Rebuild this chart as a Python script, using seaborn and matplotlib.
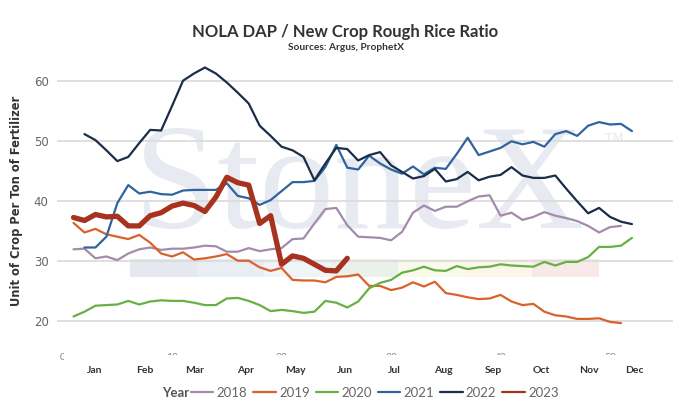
import numpy as np
import pandas as pd
from matplotlib import pyplot as plt
from matplotlib.lines import Line2D
from matplotlib.patches import Rectangle
import matplotlib.transforms as mtransforms
import seaborn as sns

nan = np.nan

# weekly ratio values, week 1..52 (nan = no data)
weeks = list(range(1, 53))
years = ['2018', '2019', '2020', '2021', '2022', '2023']
colors = ['#a48bab', '#d9622b', '#66b045', '#30649e', '#1b2d47', '#a7321f']

r2018 = [31.9, 32.0, 30.4, 30.7, 30.1, 31.2, 31.9, 32.2, 31.8, 32.0,
         32.0, 32.2, 32.5, 32.4, 31.5, 31.5, 32.1, 31.6, 31.9, 32.1,
         33.6, 33.7, 36.2, 38.6, 38.8, 35.9, 34.0, 33.9, 33.8, 33.4,
         34.8, 38.0, 39.2, 38.3, 39.0, 39.0, 39.9, 40.7, 40.9, 37.5,
         38.0, 36.8, 37.3, 38.1, 37.5, 37.1, 36.6, 35.8, 34.7, 35.6,
         35.8, nan]
r2019 = [36.3, 34.7, 35.3, 34.4, 34.0, 33.6, 34.3, 33.0, 31.2, 30.7,
         31.4, 30.2, 30.4, 30.7, 31.1, 30.0, 30.0, 28.9, 28.3, 28.8,
         26.8, 26.7, 26.7, 26.4, 27.3, 27.4, 27.7, 25.8, 25.8, 25.1,
         25.5, 26.4, 25.7, 26.5, 24.6, 24.3, 23.9, 23.6, 23.7, 24.3,
         23.2, 22.6, 22.8, 21.5, 20.9, 20.7, 20.3, 20.3, 20.4, 19.8,
         19.6, nan]
r2020 = [20.7, 21.5, 22.5, 22.6, 22.7, 23.3, 22.7, 23.2, 23.4, 23.3,
         23.3, 23.0, 22.6, 22.6, 23.7, 23.8, 23.3, 22.6, 21.6, 21.8,
         21.6, 21.3, 21.5, 23.3, 23.0, 22.2, 23.2, 25.4, 26.3, 26.8,
         28.0, 28.4, 29.0, 28.4, 28.3, 29.1, 28.6, 28.9, 29.0, 29.4,
         29.2, 29.1, 29.0, 29.8, 29.2, 29.8, 29.8, 30.6, 32.3, 32.3,
         32.5, 33.8]
r2021 = [nan, 32.2, 32.2, 34.0, 39.6, 42.6, 41.2, 41.5, 41.1, 41.0,
         41.7, 41.8, 41.8, 41.8, 42.9, 40.8, 40.4, 39.3, 40.1, 41.6,
         43.1, 43.1, 43.3, 45.6, 49.3, 45.5, 45.2, 47.5, 46.2, 45.2,
         44.5, 45.7, 44.4, 45.5, 45.3, 47.8, 50.5, 47.6, 48.2, 48.8,
         49.9, 49.4, 49.8, 49.0, 51.1, 51.6, 50.8, 52.5, 53.1, 52.7,
         52.8, 51.6]
r2022 = [nan, 51.1, 50.1, 48.4, 46.6, 47.3, 49.6, 51.8, 51.7, 55.8,
         60.0, 61.2, 62.2, 61.2, 59.7, 58.0, 56.2, 52.5, 50.8, 49.0,
         48.4, 47.3, 43.4, 46.2, 48.8, 48.6, 46.7, 47.6, 48.1, 45.9,
         44.8, 43.7, 44.1, 45.3, 43.2, 43.6, 44.8, 43.4, 44.0, 44.3,
         45.6, 44.2, 43.8, 43.8, 44.2, 42.0, 39.9, 37.9, 38.8, 37.3,
         36.5, 36.1]
r2023 = [37.2, 36.7, 37.7, 37.3, 37.4, 35.8, 35.8, 37.5, 38.0, 39.1,
         39.6, 39.2, 38.2, 40.6, 43.9, 43.0, 42.6, 36.2, 37.5, 29.4,
         30.8, 30.4, 29.4, 28.4, 28.3, 30.4] + [nan] * 26

months = ['Jan', 'Feb', 'Mar', 'Apr', 'May', 'Jun',
          'Jul', 'Aug', 'Sep', 'Oct', 'Nov', 'Dec']
month_pos = [2.9, 7.5, 12.1, 16.7, 21.3, 25.8, 30.3, 34.8, 39.3, 43.7, 48.1, 52.2]
week_ticks = [0, 10, 20, 30, 40, 50]

series = [r2018, r2019, r2020, r2021, r2022, r2023]
df = pd.concat([pd.DataFrame({'Week': weeks, 'Ratio': s, 'Year': y})
                for y, s in zip(years, series)]).dropna()

W, H = 698, 417
sns.set_style('white')
plt.rcParams['font.family'] = ['Lato', 'DejaVu Sans']

fig = plt.figure(figsize=(W / 100, H / 100), dpi=100)
ax = fig.add_axes([57 / W, 1 - 345 / H, 616 / W, 285 / H])

# watermark
ax.text(134 / W, 1 - 228 / H, 'StoneX', transform=fig.transFigure,
        family='Liberation Serif', fontsize=108, color='#e7eaf0',
        ha='left', va='baseline', zorder=0.2)
ax.text(605 / W, 1 - 139 / H, 'TM', transform=fig.transFigure,
        family='DejaVu Sans', fontsize=9, color='#e7eaf0',
        ha='left', va='center', zorder=0.2)
band = ['#e5e9ef', '#e9edf4', '#eff4f8', '#eaf1eb', '#f9f9ec', '#fbf5ea', '#f8e9e9']
for i, c in enumerate(band):
    ax.add_patch(Rectangle(((130 + i * 67) / W, 1 - 277 / H), 67 / W, 18 / H,
                           transform=fig.transFigure, color=c, lw=0, zorder=0.2))

pal = dict(zip(years, colors))
sizes = {y: 1.6 for y in years}
sizes['2023'] = 3.8
sns.lineplot(data=df, x='Week', y='Ratio', hue='Year', size='Year',
             palette=pal, sizes=sizes, errorbar=None, legend=False, ax=ax, zorder=2)

ax.set_xlim(-0.51, 55.75)
ax.set_ylim(15.95, 63.45)
ax.set_yticks([20, 30, 40, 50, 60])
ax.grid(axis='y', color='#dcdcdc', lw=1.3)
ax.set_axisbelow(True)
for sp in ax.spines.values():
    sp.set_visible(False)
ax.tick_params(axis='y', length=0, pad=6, labelsize=8.5, labelcolor='#666666')
for lab in ax.get_yticklabels():
    lab.set_family('DejaVu Sans')
ax.set_xticks(month_pos, months)
ax.tick_params(axis='x', length=0, pad=15, labelsize=7.5, labelcolor='#333333')
for lab in ax.get_xticklabels():
    lab.set_fontweight('bold')
ax.set_xlabel('')
ax.set_ylabel('Unit of Crop Per Ton of Fertilizer', family='DejaVu Sans',
              fontsize=8.3, fontweight='bold', color='#333333', labelpad=8)
ax.yaxis.set_label_coords(-(57 - 23) / 616, 0.5 - (200 - 202) / 285)

# half-hidden week numbers under the plot
trans = mtransforms.blended_transform_factory(ax.transData, fig.transFigure)
for w in week_ticks:
    t = ax.text(w, 1 - 358 / H, str(w), transform=trans, ha='center', va='center',
                fontsize=7.5, color='#888888')
    if w == 0:
        box = mtransforms.Bbox.from_extents(0, 0, 64, H)
    else:
        box = mtransforms.Bbox.from_extents(0, H - 355, W, H)
    t.set_clip_box(box)
    t.set_clip_on(True)

fig.text(345.5 / W, 1 - 32 / H, 'NOLA DAP / New Crop Rough Rice Ratio',
         ha='center', va='center', fontsize=12, fontweight='bold', color='#333333')
fig.text(346 / W, 1 - 48 / H, 'Sources: Argus, ProphetX',
         ha='center', va='center', fontsize=7.3, fontweight='bold', color='#333333')

handles = [Line2D([], [], color=c, lw=1.6) for c in colors]
fig.text(176 / W, 1 - 393 / H, 'Year', ha='center', va='center',
         fontsize=9.5, fontweight='bold', color='#555555')
leg = fig.legend(handles, years, loc='center left', bbox_to_anchor=(191 / W, 1 - 393 / H),
                 ncol=6, frameon=False, fontsize=9.5, handlelength=1.7,
                 handletextpad=0.25, columnspacing=0.45, borderpad=0, borderaxespad=0)
for t in leg.get_texts():
    t.set_color('#666666')

fig.savefig('out.png', dpi=100)
